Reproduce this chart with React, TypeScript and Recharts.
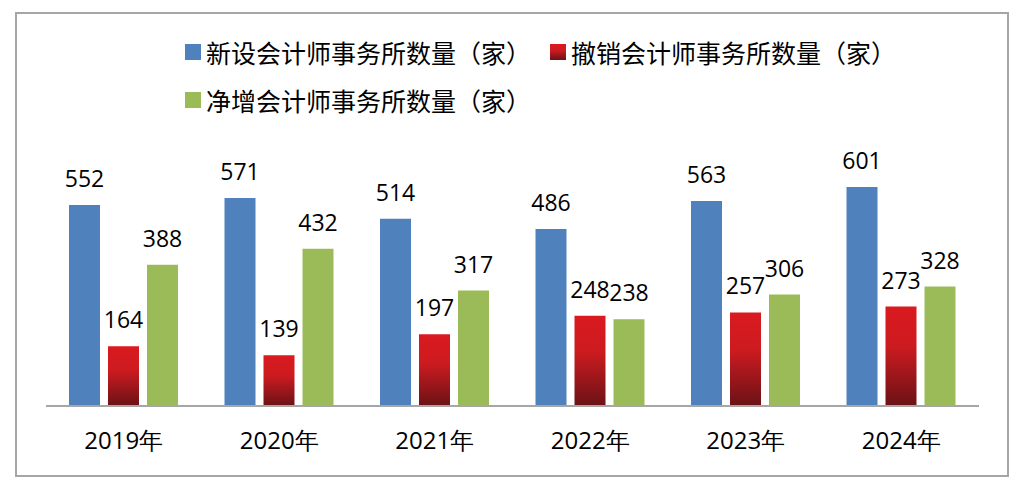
import React from "react";
import { BarChart, Bar, XAxis, YAxis, Legend, LabelList } from "recharts";

const years = ["2019年", "2020年", "2021年", "2022年", "2023年", "2024年"];
const newFirms = [552, 571, 514, 486, 563, 601];
const closedFirms = [164, 139, 197, 248, 257, 273];
const netFirms = [388, 432, 317, 238, 306, 328];

const SERIES = [
  { key: "new", name: "新设会计师事务所数量（家）", fill: "#4F81BD", swatch: "#4F81BD" },
  {
    key: "closed",
    name: "撤销会计师事务所数量（家）",
    fill: "url(#redFade)",
    swatch: "linear-gradient(#DA1A1F 0%, #CC1B20 40%, #6A1216 100%)",
  },
  { key: "net", name: "净增会计师事务所数量（家）", fill: "#9BBB59", swatch: "#9BBB59" },
];

const data = years.map((y, i) => ({
  year: y,
  new: newFirms[i],
  closed: closedFirms[i],
  net: netFirms[i],
}));

const NUM_FONT = "'Open Sans', 'Noto Sans', sans-serif";
const CJK_FONT = "'Noto Sans CJK SC', sans-serif";

function ChartLegend() {
  return (
    <div style={{ display: "flex", flexWrap: "wrap", width: 760, fontFamily: CJK_FONT }}>
      {SERIES.map((s) => (
        <div
          key={s.key}
          style={{ display: "flex", alignItems: "center", height: 48, marginRight: 19 }}
        >
          <span
            style={{ width: 16, height: 16, background: s.swatch, marginRight: 5, display: "inline-block" }}
          />
          <span style={{ fontSize: 25, color: "#000", whiteSpace: "nowrap" }}>{s.name}</span>
        </div>
      ))}
    </div>
  );
}

export default function App() {
  return (
    <div style={{ position: "absolute", left: 0, top: 0, width: 1025, height: 497, background: "#fff" }}>
      <div
        style={{
          position: "absolute",
          left: 15,
          top: 12,
          width: 990,
          height: 461,
          border: "2px solid #A6A6A6",
        }}
      />
      <div style={{ position: "absolute", left: 0, top: 0 }}>
        <BarChart
          width={1025}
          height={497}
          data={data}
          margin={{ top: 151, right: 46, bottom: 61, left: 46 }}
          barSize={31}
          barGap={8}
        >
          <defs>
            <linearGradient id="redFade" x1="0" y1="0" x2="0" y2="1">
              <stop offset="0%" stopColor="#DA1A1F" />
              <stop offset="40%" stopColor="#CC1B20" />
              <stop offset="100%" stopColor="#6A1216" />
            </linearGradient>
          </defs>
          <XAxis
            dataKey="year"
            height={30}
            axisLine={{ stroke: "#A6A6A6", strokeWidth: 2 }}
            tickLine={false}
            tickSize={0}
            tickMargin={26}
            tick={{ fill: "#000", fontSize: 24, fontFamily: NUM_FONT }}
            interval={0}
          />
          <YAxis hide domain={[0, 700]} />
          <Legend
            layout="horizontal"
            verticalAlign="middle"
            align="center"
            wrapperStyle={{ position: "absolute", left: 185, top: 28, width: 760 }}
            content={() => <ChartLegend />}
          />
          {SERIES.map((s) => (
            <Bar key={s.key} dataKey={s.key} name={s.name} fill={s.fill} isAnimationActive={false}>
              <LabelList
                dataKey={s.key}
                position="top"
                offset={18}
                style={{ fill: "#000", fontSize: 23, fontFamily: NUM_FONT }}
              />
            </Bar>
          ))}
        </BarChart>
      </div>
    </div>
  );
}
